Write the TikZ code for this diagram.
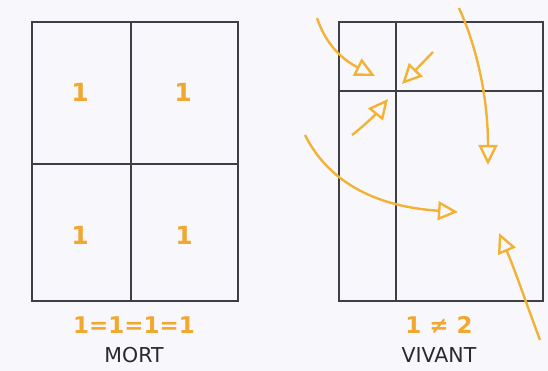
\documentclass[tikz,border=0pt]{standalone}
\usepackage{fontspec}
\setmainfont{DejaVu Sans}
\usetikzlibrary{arrows.meta}
\definecolor{bg}{HTML}{F8F8FC}
\definecolor{gridc}{HTML}{3E3E46}
\definecolor{numc}{HTML}{F0A830}
\definecolor{arrc}{HTML}{F2B236}
\definecolor{txt}{HTML}{2A2A2E}
\tikzset{
  gridline/.style={draw=gridc, line width=2.6pt},
  num/.style={text=numc, font=\fontsize{25}{25}\selectfont\bfseries, inner sep=0pt},
  eq/.style={text=numc, font=\fontsize{23}{23}\selectfont\bfseries, inner sep=0pt},
  lbl/.style={text=txt, font=\fontsize{20.5}{20.5}\selectfont, inner sep=0pt},
  flow/.style={draw=arrc, line width=2.4pt,
    -{Triangle[open, length=20pt, width=19pt, line width=2.4pt]}}
}
\begin{document}
\begin{tikzpicture}[x=1pt,y=-1pt]
\useasboundingbox (0,0) rectangle (548,371);
\fill[bg] (0,0) rectangle (548,371);
% left grid
\draw[gridline] (32,22) rectangle (238,301);
\draw[gridline] (131,22) -- (131,301);
\draw[gridline] (32,164) -- (238,164);
\node[num] (n1) at (80,92) {1};
\node[num] (n2) at (183,92) {1};
\node[num] (n3) at (80,235) {1};
\node[num] (n4) at (184,235) {1};
\node[eq] (e1) at (134,325) {1=1=1=1};
\node[lbl] (l1) at (134,355) {MORT};
% right grid
\draw[gridline] (339,22) rectangle (543,301);
\draw[gridline] (396,22) -- (396,301);
\draw[gridline] (339,91) -- (543,91);
\node[eq] (e2) at (439,325) {1 ≠ 2};
\node[lbl] (l2) at (439,355) {VIVANT};
% arrows
\coordinate (a1s) at (317,18);  \coordinate (a1e) at (375,76);
\coordinate (a2s) at (433,52);  \coordinate (a2e) at (402,84);
\coordinate (a3s) at (352,135); \coordinate (a3e) at (388,99);
\coordinate (a4s) at (459,8);   \coordinate (a4e) at (488,165);
\coordinate (a5s) at (305,135); \coordinate (a5e) at (458,212);
\coordinate (a6s) at (540,340); \coordinate (a6e) at (499,233);
\draw[flow] (a1s) .. controls (326,45) and (343,60) .. (a1e);
\draw[flow] (a2s) -- (a2e);
\draw[flow] (a3s) .. controls (365,125) and (375,115) .. (a3e);
\draw[flow] (a4s) .. controls (478,50) and (488,100) .. (a4e);
\draw[flow] (a5s) .. controls (330,185) and (380,207) .. (a5e);
\draw[flow] (a6s) .. controls (525,300) and (515,270) .. (a6e);
\end{tikzpicture}
\end{document}
